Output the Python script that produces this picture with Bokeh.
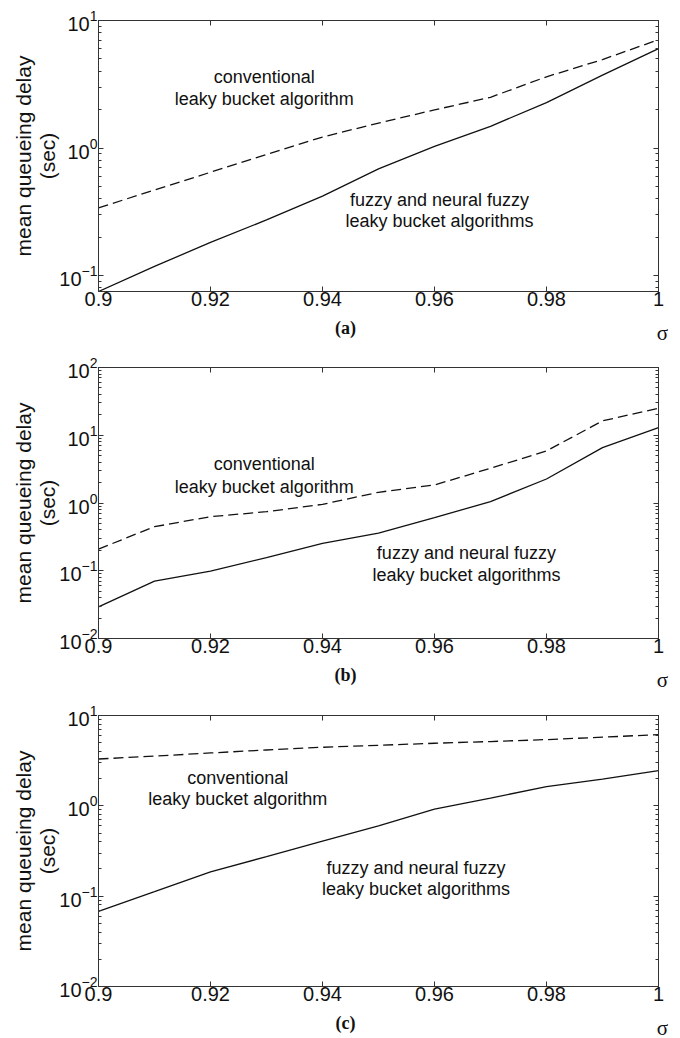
import math
from bokeh.plotting import figure
from bokeh.layouts import column, row
from bokeh.models import (Range1d, FixedTicker, LogAxis, LinearAxis,
                          CustomJSTickFormatter, LogTickFormatter)
from bokeh.core.properties import value
from bokeh.embed import file_html
from bokeh.resources import INLINE

# ---------------- data ----------------
sigma = [0.90, 0.91, 0.92, 0.93, 0.94, 0.95, 0.96, 0.97, 0.98, 0.99, 1.00]

fuzzy_a = [0.075, 0.118, 0.182, 0.273, 0.42, 0.686, 1.03, 1.48, 2.27, 3.73, 6.02]
conv_a = [0.34, 0.468, 0.646, 0.89, 1.22, 1.57, 1.99, 2.5, 3.62, 4.94, 7.07]

fuzzy_b = [0.0293, 0.0703, 0.099, 0.156, 0.253, 0.36, 0.607, 1.05, 2.26, 6.57, 13.0]
conv_b = [0.209, 0.447, 0.628, 0.744, 0.955, 1.44, 1.85, 3.25, 5.87, 16.3, 25.0]

fuzzy_c = [0.068, 0.112, 0.186, 0.274, 0.408, 0.6, 0.92, 1.22, 1.63, 1.98, 2.45]
conv_c = [3.30, 3.55, 3.85, 4.15, 4.45, 4.68, 4.93, 5.15, 5.41, 5.75, 6.15]

x_ticks = [0.90, 0.92, 0.94, 0.96, 0.98, 1.00]
panel_labels = ["(a)", "(b)", "(c)"]
y_label = "mean queueing delay\n(sec)"
x_label = "σ"
conv_text = ["conventional", "leaky bucket algorithm"]
fuzzy_text = ["fuzzy and neural fuzzy", "leaky bucket algorithms"]

y_ranges = [(0.075, 10.0), (0.01, 100.0), (0.01, 10.0)]
# annotation anchors: (x, y of line 1, y of line 2)
conv_pos = [(0.9296, 3.62, 2.44), (0.9296, 3.73, 1.74), (0.92486, 2.03, 1.19)]
fuzzy_pos = [(0.9609, 0.391, 0.268), (0.9657, 0.181, 0.0864), (0.9567, 0.206, 0.119)]

SANS = "Liberation Sans"
SERIF = "Liberation Serif"
AX = "#333333"
INK = "#111111"

W = 680
LEFT = 98
FRAME_W = 560
FRAME_H = 271
TOP = 20
BOTTOM = 22


def style_axis(ax, labels=True):
    ax.axis_line_color = AX
    ax.major_tick_line_color = AX
    ax.minor_tick_line_color = AX
    ax.major_tick_in = 5
    ax.major_tick_out = 0
    ax.minor_tick_in = 3
    ax.minor_tick_out = 0
    ax.major_label_text_font = SANS
    ax.major_label_text_font_size = "20px"
    ax.major_label_text_color = INK
    ax.major_label_standoff = 1
    if not labels:
        ax.formatter = CustomJSTickFormatter(code="return ''")
        ax.major_label_standoff = 0


def make_panel(idx, fuzzy, conv):
    y0, y1 = y_ranges[idx]
    p = figure(width=W, height=TOP + FRAME_H + BOTTOM, y_axis_type="log",
               x_range=Range1d(0.9, 1.0), y_range=Range1d(y0, y1),
               output_backend="svg", toolbar_location=None,
               min_border_left=LEFT, min_border_right=W - LEFT - FRAME_W,
               min_border_top=TOP, min_border_bottom=BOTTOM)
    p.grid.visible = False
    p.outline_line_color = AX
    p.outline_line_width = 1

    lo = math.floor(math.log10(y0) + 1e-9)
    hi = math.ceil(math.log10(y1) - 1e-9)
    majors = [10.0 ** k for k in range(lo, hi + 1)]
    minors = [m * 10.0 ** k for k in range(lo, hi) for m in range(2, 10)]

    p.yaxis.ticker = FixedTicker(ticks=majors, minor_ticks=minors)
    p.yaxis.formatter = LogTickFormatter()
    style_axis(p.yaxis[0])
    p.yaxis.major_label_standoff = 1
    p.yaxis.axis_label = y_label
    p.yaxis.axis_label_text_font = SANS
    p.yaxis.axis_label_text_font_size = "21px"
    p.yaxis.axis_label_text_font_style = "normal"
    p.yaxis.axis_label_text_color = INK
    p.yaxis.axis_label_text_line_height = 1.05
    p.yaxis.axis_label_standoff = -3

    p.xaxis.ticker = FixedTicker(ticks=x_ticks, minor_ticks=[])
    p.xaxis.formatter = CustomJSTickFormatter(
        code="return tick.toFixed(2).replace(/0+$/, '').replace(/\\.$/, '')")
    style_axis(p.xaxis[0])
    p.xaxis.major_label_standoff = 0

    right = LogAxis(ticker=FixedTicker(ticks=majors, minor_ticks=minors))
    style_axis(right, labels=False)
    p.add_layout(right, "right")
    top = LinearAxis(ticker=FixedTicker(ticks=x_ticks, minor_ticks=[]))
    style_axis(top, labels=False)
    p.add_layout(top, "above")

    p.line(sigma, fuzzy, line_color=INK, line_width=1.3)
    p.line(sigma, conv, line_color=INK, line_width=1.3, line_dash="10 5")

    cx, cy1, cy2 = conv_pos[idx]
    fx, fy1, fy2 = fuzzy_pos[idx]
    p.text(x=[cx, cx, fx, fx], y=[cy1, cy2, fy1, fy2],
           text=[conv_text[0], conv_text[1], fuzzy_text[0], fuzzy_text[1]],
           text_align="center", text_baseline="middle",
           text_font=value(SANS), text_font_size="18px", text_color=INK)
    return p


def make_caption(idx, height):
    # x mapping identical to the panel frame above; y in pixels from the top
    px = (1.0 - 0.9) / FRAME_W
    c = figure(width=W, height=height, x_axis_type=None, y_axis_type=None,
               x_range=Range1d(0.9 - LEFT * px, 0.9 + (W - LEFT) * px),
               y_range=Range1d(height, 0),
               output_backend="svg", toolbar_location=None,
               min_border=0, min_border_left=0, min_border_right=0,
               min_border_top=0, min_border_bottom=0)
    c.grid.visible = False
    c.outline_line_color = None
    c.text(x=[1.0 + 4 * px], y=[19], text=[x_label], text_align="center",
           text_baseline="alphabetic", text_font=value(SERIF),
           text_font_size="21px", text_color=INK)
    c.text(x=[0.9441], y=[14], text=[panel_labels[idx]], text_align="center",
           text_baseline="middle", text_font=value(SERIF),
           text_font_size="18px", text_font_style="bold", text_color=INK)
    return row(c, spacing=0)


pa = make_panel(0, fuzzy_a, conv_a)
ca = make_caption(0, 34)
pb = make_panel(1, fuzzy_b, conv_b)
cb = make_caption(1, 35)
pc = make_panel(2, fuzzy_c, conv_c)
cc = make_caption(2, 30)

layout = column(pa, ca, pb, cb, pc, cc, spacing=0)
open("out.html", "w").write(file_html(layout, INLINE))
